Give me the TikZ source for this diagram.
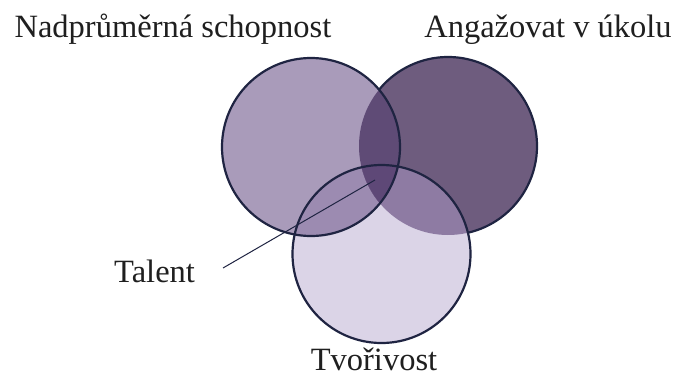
\documentclass[tikz,border=0pt]{standalone}
\usepackage{fontspec}
\setmainfont{Liberation Serif}
\definecolor{cL}{HTML}{A99BBA}
\definecolor{cR}{HTML}{6E5C7E}
\definecolor{cB}{HTML}{DBD4E7}
\definecolor{cLR}{HTML}{5F4B76}
\definecolor{cLB}{HTML}{9C8BB1}
\definecolor{cRB}{HTML}{8E7BA3}
\definecolor{cLRB}{HTML}{5E4877}
\definecolor{edge}{HTML}{1F2442}
\tikzset{
  setbox/.style={circle, minimum size=178pt, inner sep=0pt},
  outline/.style={draw=edge, line width=2.2pt},
  lbl/.style={font=\fontsize{32.5}{32.5}\selectfont, inner sep=0pt, text=black!88},
}
\begin{document}
\begin{tikzpicture}[x=1pt,y=1pt]
\useasboundingbox (0,0) rectangle (673,376);
\fill[white] (0,0) rectangle (673,376);
% circles (names)
\node[setbox, fill=cR] (R) at (448,230) {};
\node[setbox, fill=cL] (L) at (311,229) {};
\node[setbox, fill=cB] (B) at (381.5,122) {};
% intersections
\begin{scope}
  \clip (311,229) circle (89pt);
  \fill[cLB] (381.5,122) circle (89pt);
  \fill[cLR] (448,230) circle (89pt);
  \clip (448,230) circle (89pt);
  \fill[cLRB] (381.5,122) circle (89pt);
\end{scope}
\begin{scope}
  \clip (448,230) circle (89pt);
  \begin{scope}
    \clip (381.5,122) circle (89pt);
    \fill[cRB] (448,230) circle (89pt);
    \clip (311,229) circle (89pt);
    \fill[cLRB] (448,230) circle (89pt);
  \end{scope}
\end{scope}
% outlines
\draw[outline] ([shift={(-77:89pt)}]R.center) arc[start angle=-77, end angle=140.6, radius=89pt];
\draw[outline] (L.center) circle (89pt);
\draw[outline] (B.center) circle (89pt);
% labels
\node[lbl, anchor=base] (t1) at (173,338) {Nadprůměrná schopnost};
\node[lbl, anchor=base] (t2) at (548,338) {Angažovat v úkolu};
\node[lbl, anchor=base west] (t3) at (114,94) {Talent};
\node[lbl, anchor=base] (t4) at (374,6) {Tvořivost};
\coordinate (ts) at (223,108);
\coordinate (te) at (375,196);
\draw[edge, line width=1pt] (ts) -- (te);
\end{tikzpicture}
\end{document}
